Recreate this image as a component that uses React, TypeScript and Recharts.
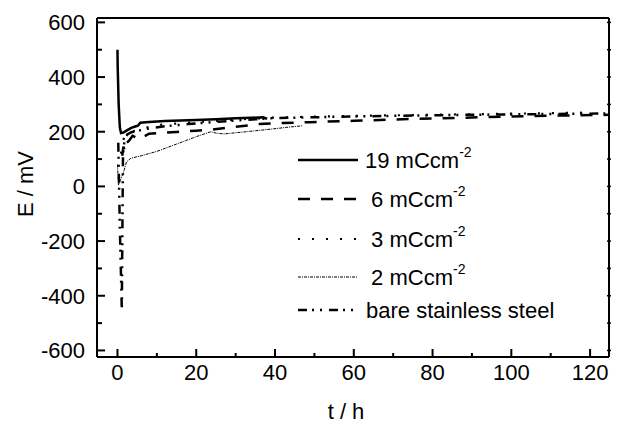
import { Legend, Line, LineChart, XAxis, YAxis } from "recharts";

// axis ticks (minor every 10 h / 100 mV, labels on the major ones)
const xTicks = [0, 10, 20, 30, 40, 50, 60, 70, 80, 90, 100, 110, 120];
const yTicks = [-600, -500, -400, -300, -200, -100, 0, 100, 200, 300, 400, 500, 600];

// 19 mCcm-2
const t19 = [0, 0.05, 0.3, 0.6, 0.9, 1.5, 2.5, 3.5, 4.5, 5.2, 5.8, 8, 12, 16, 20, 25, 30, 34, 37, 38];
const e19 = [500, 440, 300, 215, 195, 197, 206, 214, 219, 222, 233, 236, 239, 241, 243, 246, 249, 251, 253, 247];

// 6 mCcm-2
const t6 = [1.2, 1.5, 1.9, 2.4, 3.0, 3.8, 4.8, 5.8, 6.7, 8, 11, 15, 20, 24, 30, 36, 42, 49, 60, 75, 90, 100, 112, 125];
const e6 = [112, 145, 128, 160, 168, 185, 178, 172, 182, 193, 196, 199, 204, 208, 218, 228, 232, 235, 240, 247, 252, 256, 259, 262];

// 3 mCcm-2
const t3 = [0.9, 1.3, 1.8, 2.5, 3.5, 5, 7, 10, 14, 18, 25, 32, 40, 50, 60, 70, 80, 90, 100, 110, 120];
const e3 = [120, 160, 185, 195, 200, 206, 214, 224, 229, 233, 240, 246, 252, 255, 258, 260, 262, 264, 266, 268, 270];

// 2 mCcm-2
const t2 = [0, 0.25, 0.8, 1.5, 2.3, 3.4, 6, 10, 15, 20, 23.7, 25, 27, 32, 38, 43, 47];
const e2 = [80, 5, 25, 50, 90, 103, 112, 128, 155, 182, 200, 195, 192, 199, 208, 216, 222];

// bare stainless steel
const tBare = [0.2, 0.6, 1.1, 1.25, 1.4, 1.8, 2.5, 3.5, 5, 8, 12, 18, 25, 32, 40, 50, 60, 75, 90, 105, 125];
const eBare = [160, -150, -450, -150, 120, 170, 190, 198, 203, 212, 220, 228, 236, 243, 250, 253, 256, 259, 262, 264, 267];

const toPoints = (t: number[], e: number[]) => t.map((v, i) => ({ t: v, e: e[i] }));

const FONT = "Arial, 'Liberation Sans', sans-serif";

const series = [
  { key: "s19", label: "19 mCcm", data: toPoints(t19, e19), width: 2.5, dash: undefined as string | undefined },
  { key: "s6", label: "\u00a06 mCcm", data: toPoints(t6, e6), width: 2.5, dash: "12 11" },
  { key: "s3", label: "\u00a03 mCcm", data: toPoints(t3, e3), width: 2.2, dash: "2 12" },
  { key: "s2", label: "\u00a02 mCcm", data: toPoints(t2, e2), width: 1, dash: "3 1 1 1" },
  { key: "bare", label: "bare stainless steel", data: toPoints(tBare, eBare), width: 2.5, dash: "9 5 2 6 2 7" },
];

function XTick(props: any) {
  const { x, y, payload } = props;
  const major = payload.value % 20 === 0;
  return (
    <g>
      <line x1={x} x2={x} y1={y} y2={y - (major ? 8 : 4)} stroke="#000" strokeWidth={2} />
      {major && (
        <text x={x} y={y + 23} textAnchor="middle" fontSize={22} fontFamily={FONT} fill="#000">
          {payload.value}
        </text>
      )}
    </g>
  );
}

function YTick(props: any) {
  const { x, y, payload } = props;
  const major = payload.value % 200 === 0;
  return (
    <g>
      <line x1={x} x2={x + (major ? 8 : 5)} y1={y} y2={y} stroke="#000" strokeWidth={2} />
      {major && (
        <text x={x - 12} y={y + 8} textAnchor="end" fontSize={22} fontFamily={FONT} fill="#000">
          {payload.value}
        </text>
      )}
    </g>
  );
}

function RightTick(props: any) {
  const { x, y } = props;
  return <line x1={x - 2} x2={x + 2} y1={y} y2={y} stroke="#000" strokeWidth={1.5} />;
}

const rowY = [20, 59, 99, 137, 170];

function LegendBox() {
  return (
    <svg width={300} height={190} style={{ display: "block" }}>
      {series.map((s, i) => (
        <g key={s.key}>
          <line x1={8} x2={68} y1={rowY[i]} y2={rowY[i]} stroke="#000" strokeWidth={s.width} strokeDasharray={s.dash} />
          <text x={s.key === "bare" ? 76 : 75} y={rowY[i] + 8} fontSize={22} fontFamily={FONT} fill="#000">
            {s.label}
            {s.key !== "bare" && (
              <tspan dy={-11} fontSize={14}>
                -2
              </tspan>
            )}
          </text>
        </g>
      ))}
    </svg>
  );
}

export default function App() {
  return (
    <div style={{ position: "absolute", left: 0, top: 0, background: "#fff" }}>
      <LineChart width={620} height={424} margin={{ top: 0, right: 0, bottom: 0, left: 0 }}>
        <XAxis
          dataKey="t"
          type="number"
          domain={[-5.2, 124.8]}
          allowDataOverflow
          ticks={xTicks}
          interval={0}
          tickSize={0}
          tickMargin={0}
          tickLine={false}
          tick={<XTick />}
          axisLine={{ stroke: "#000", strokeWidth: 2 }}
          height={67}
          label={{
            value: "t / h",
            position: "insideBottom",
            offset: 5,
            dx: -7,
            style: { fontSize: 22, fontFamily: FONT, fill: "#000" },
          }}
        />
        <XAxis
          xAxisId="top"
          orientation="top"
          type="number"
          domain={[-5.2, 124.8]}
          allowDataOverflow
          tick={false}
          tickLine={false}
          axisLine={{ stroke: "#000", strokeWidth: 2 }}
          height={18}
        />
        <YAxis
          type="number"
          domain={[-624, 616]}
          allowDataOverflow
          ticks={yTicks}
          interval={0}
          tickSize={0}
          tickMargin={0}
          tickLine={false}
          tick={<YTick />}
          axisLine={{ stroke: "#000", strokeWidth: 2 }}
          width={97}
          label={{
            content: () => (
              <text
                x={33}
                y={184}
                transform="rotate(-90, 33, 184)"
                textAnchor="middle"
                fontSize={22}
                fontFamily={FONT}
                fill="#000"
              >
                E / mV
              </text>
            ),
          }}
        />
        <YAxis
          yAxisId="right"
          orientation="right"
          type="number"
          domain={[-624, 616]}
          allowDataOverflow
          ticks={yTicks}
          interval={0}
          tickSize={0}
          tickMargin={0}
          tickLine={false}
          tick={<RightTick />}
          axisLine={{ stroke: "#000", strokeWidth: 2 }}
          width={11}
        />
        {series.map((s) => (
          <Line
            key={s.key}
            data={s.data}
            dataKey="e"
            type="linear"
            stroke="#000"
            strokeWidth={s.width}
            strokeDasharray={s.dash}
            dot={false}
            activeDot={false}
            isAnimationActive={false}
          />
        ))}
        <Legend
          verticalAlign="middle"
          align="center"
          layout="horizontal"
          content={() => <LegendBox />}
          wrapperStyle={{ left: 290, top: 140, width: 300, height: 190 }}
        />
      </LineChart>
    </div>
  );
}
